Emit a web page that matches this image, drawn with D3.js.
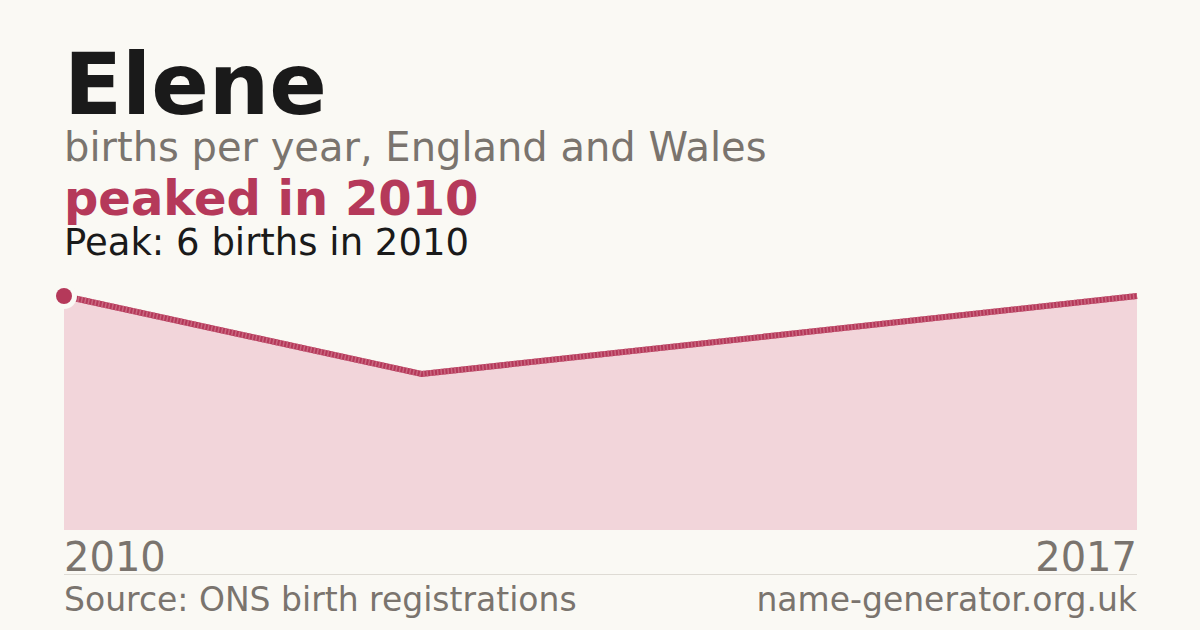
<!DOCTYPE html>
<html>
<head>
<meta charset="utf-8">
<script src="https://cdn.jsdelivr.net/npm/d3@7"></script>
<style>
  body { margin: 0; background: #faf9f4; }
  svg { display: block; font-family: "DejaVu Sans", sans-serif; }
</style>
</head>
<body>
<div id="chart"></div>
<script>
// data
const years = ["2010", "2015", "2016", "2017"];
const births = [6, 4, 5, 6];
const tickLabels = ["2010", "2017"];

const width = 1200, height = 630;
const margin = { left: 64, right: 63, top: 296, bottom: 100 };
const accent = "#b5395a";
const grey = "#7a746e";

const svg = d3.select("#chart").append("svg")
  .attr("width", width)
  .attr("height", height);

svg.append("rect").attr("width", width).attr("height", height).attr("fill", "#faf9f4");

// header texts
svg.append("text").attr("x", 64).attr("y", 114)
  .attr("font-size", 85).attr("font-weight", "bold").attr("fill", "#1a1a1a").text("Elene");
svg.append("text").attr("x", 64).attr("y", 161)
  .attr("font-size", 40).attr("fill", grey).text("births per year, England and Wales");
svg.append("text").attr("x", 64).attr("y", 215)
  .attr("font-size", 48).attr("font-weight", "bold").attr("fill", accent).text("peaked in 2010");
svg.append("text").attr("x", 64).attr("y", 255)
  .attr("font-size", 37).attr("fill", "#1a1a1a").text("Peak: 6 births in 2010");

// scales
const x = d3.scalePoint().domain(years).range([margin.left, width - margin.right]);
const y = d3.scaleLinear().domain([0, d3.max(births)]).range([530, margin.top]);

const data = years.map((d, i) => ({ year: d, value: births[i] }));

const area = d3.area().x(d => x(d.year)).y0(y(0)).y1(d => y(d.value));
const line = d3.line().x(d => x(d.year)).y(d => y(d.value));

svg.append("path").datum(data).attr("d", area).attr("fill", "#f2d5da");
svg.append("path").datum(data).attr("d", line)
  .attr("fill", "none").attr("stroke", accent).attr("stroke-width", 6);
svg.append("path").datum(data).attr("d", line)
  .attr("fill", "none").attr("stroke", "#c9667f").attr("stroke-width", 6)
  .attr("stroke-dasharray", "1.5,2");

// peak marker
const peakIdx = births.indexOf(d3.max(births));
svg.append("circle")
  .attr("cx", x(years[peakIdx])).attr("cy", y(births[peakIdx]))
  .attr("r", 8).attr("fill", accent)
  .attr("stroke", "#faf9f4").attr("stroke-width", 10).attr("paint-order", "stroke");

// x labels
svg.selectAll(".tick-label").data(tickLabels).join("text")
  .attr("class", "tick-label")
  .attr("x", (d, i) => i === 0 ? x(years[0]) : x(years[years.length - 1]))
  .attr("y", 571)
  .attr("text-anchor", (d, i) => i === 0 ? "start" : "end")
  .attr("font-size", 40).attr("fill", grey)
  .text(d => d);

svg.append("line").attr("x1", 64).attr("x2", width - margin.right)
  .attr("y1", 574.5).attr("y2", 574.5).attr("stroke", "#dedbd4").attr("stroke-width", 1);

// footer
svg.append("text").attr("x", 64).attr("y", 611)
  .attr("font-size", 33).attr("fill", grey).text("Source: ONS birth registrations");
svg.append("text").attr("x", width - margin.right).attr("y", 611).attr("text-anchor", "end")
  .attr("font-size", 33).attr("fill", grey).text("name-generator.org.uk");
</script>
</body>
</html>
